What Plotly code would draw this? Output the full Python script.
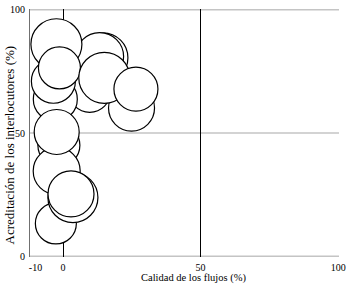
import plotly.graph_objects as go

# bubble data (back to front drawing order)
calidad = [14.5, 13.3, 9.7, 24.9, -2.4, -2.8, -3.5, -1.5, -1.3, 15.0, 26.5, -2.6, -2.3, -2.3, 3.6, 2.9]
acreditacion = [80.5, 81.0, 66.9, 60.1, 86.0, 63.7, 71.0, 45.0, 76.4, 72.4, 67.8, 13.3, 34.6, 50.4, 23.8, 25.3]
tamano = [50, 48, 42, 46, 51, 44, 44, 42, 42, 51, 44, 41, 47, 45, 50, 46]

x_ticks = [-10, 0, 50, 100]
y_ticks = [0, 50, 100]
x_grid = [0, 50, 100]
y_grid = [0, 50, 100]

FONT = "Liberation Serif"

fig = go.Figure()
fig.add_trace(go.Scatter(
    x=calidad, y=acreditacion, mode="markers",
    marker=dict(size=tamano, sizemode="diameter", color="white",
                line=dict(color="black", width=1.2), opacity=1),
    hoverinfo="skip", showlegend=False,
))

for yv in y_grid:
    fig.add_shape(type="line", xref="paper", yref="y", x0=0, x1=1, y0=yv, y1=yv,
                  line=dict(color="#c4c4c4", width=1.5), layer="below")

fig.update_layout(
    width=350, height=287,
    margin=dict(l=30, r=9, t=4, b=30),
    paper_bgcolor="white", plot_bgcolor="white",
    font=dict(family=FONT, color="black", size=10),
    xaxis=dict(
        range=[-12, 100.3], tickvals=x_ticks, ticktext=[str(v) for v in x_ticks],
        showgrid=False, zeroline=False, showline=False, ticks="",
        minor=dict(tickvals=x_grid, showgrid=True, gridcolor="black", gridwidth=1),
        tickfont=dict(size=10), ticklabeloverflow="allow", ticklabelstandoff=3,
    ),
    yaxis=dict(
        range=[-0.3, 100.3], tickvals=y_ticks,
        showgrid=False,
        zeroline=False, showline=True, linecolor="#707070", linewidth=1,
        ticks="", ticklabelstandoff=2, ticklabeloverflow="allow",
        tickfont=dict(size=10),
    ),
    annotations=[
        dict(text="Calidad de los flujos (%)", xref="paper", yref="paper",
             x=(195 - 30) / 311, y=-(278 - 257) / 253, xanchor="center", yanchor="middle",
             showarrow=False, font=dict(size=10.5)),
        dict(text="Acreditación de los interlocutores (%)", xref="paper", yref="paper",
             x=-(30 - 9) / 311, y=(257 - 143) / 253, xanchor="center", yanchor="middle",
             textangle=-90, showarrow=False, font=dict(size=13)),
    ],
)

fig.write_html("out.html")
